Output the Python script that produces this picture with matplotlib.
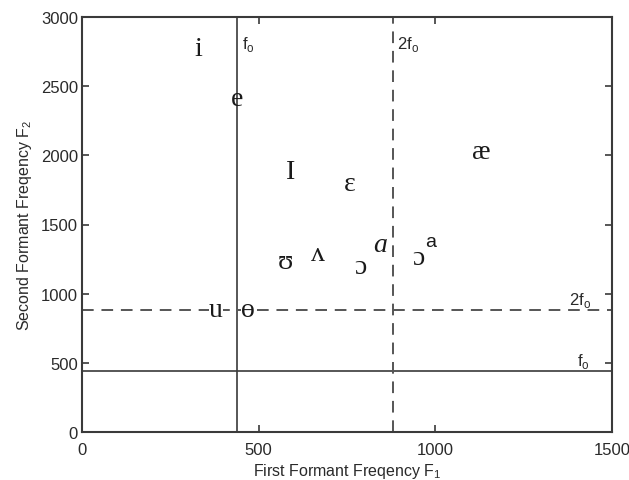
import matplotlib
matplotlib.use("Agg")
import matplotlib.pyplot as plt

# vowel symbols and their (F1, F2) positions
vowels = ["i", "e", "I", "ɛ", "æ", "ʊ", "ʌ", "ɔ", "a", "ɔ", "u", "ɵ"]
f1_vals = [328, 439, 589, 759, 1129, 575, 668, 787, 843, 951, 379, 470]
f2_vals = [2769, 2408, 1880, 1793, 2025, 1236, 1287, 1193, 1352, 1265, 882, 882]

f0 = 440
f0_2 = 880

x_ticks = [0, 500, 1000, 1500]
y_ticks = [0, 500, 1000, 1500, 2000, 2500, 3000]

line_col = "#3a3a3a"
serif = ["Liberation Serif", "DejaVu Serif"]
sans = ["Liberation Sans", "DejaVu Sans"]

fig = plt.figure(figsize=(6.29, 4.81), dpi=100)
ax = fig.add_axes([82 / 629, 48 / 481, 530 / 629, 415 / 481])

ax.axvline(f0, color=line_col, lw=1.2)
ax.axhline(f0, color=line_col, lw=1.2)
ax.axvline(f0_2, color="#555555", lw=1.4, ls=(0, (6, 4)))
ax.axhline(f0_2, color="#555555", lw=1.4, ls=(0, (6, 4)))

for i, (sym, x, y) in enumerate(zip(vowels, f1_vals, f2_vals)):
    style = "italic" if i == 8 else "normal"
    t = ax.text(x, y, sym, fontsize=20, family=serif, style=style,
                ha="center", va="center", color="#1a1a1a")
    if sym in ("u", "ɵ"):
        t.set_bbox(dict(facecolor="white", edgecolor="none", pad=0.3))
# superscript a on the last ɔ
ax.text(f1_vals[9] + 35, f2_vals[9] + 115, "a", fontsize=14, family=sans,
        ha="center", va="center", color="#1a1a1a")

# f0 labels
lab = dict(fontsize=12, family=sans, color="#2a2a2a")
ax.text(f0 + 12, 2810, r"f$_\mathregular{o}$", ha="left", va="center", **lab)
ax.text(f0_2 + 12, 2810, r"2f$_\mathregular{o}$", ha="left", va="center", **lab)
ax.text(1410, 960, r"2f$_\mathregular{o}$", ha="center", va="center", **lab)
ax.text(1420, 520, r"f$_\mathregular{o}$", ha="center", va="center", **lab)

ax.set_xlim(0, 1500)
ax.set_ylim(0, 3000)
ax.set_xticks(x_ticks)
ax.set_yticks(y_ticks)
ax.tick_params(direction="in", top=True, right=True, length=5, width=1.2,
               color=line_col, labelsize=12, labelcolor="#2a2a2a", pad=3)
ax.tick_params(axis="x", pad=7)
for lbl in ax.get_xticklabels() + ax.get_yticklabels():
    lbl.set_family(sans)
for s in ax.spines.values():
    s.set_color(line_col)
    s.set_linewidth(1.5)

ax.set_xlabel(r"First Formant Freqency F$_\mathregular{1}$", fontsize=11.5,
              family=sans, color="#2a2a2a", labelpad=3)
ax.set_ylabel(r"Second Formant Freqency F$_\mathregular{2}$", fontsize=11.5,
              family=sans, color="#2a2a2a", labelpad=5)

fig.savefig("out.png", dpi=100)
